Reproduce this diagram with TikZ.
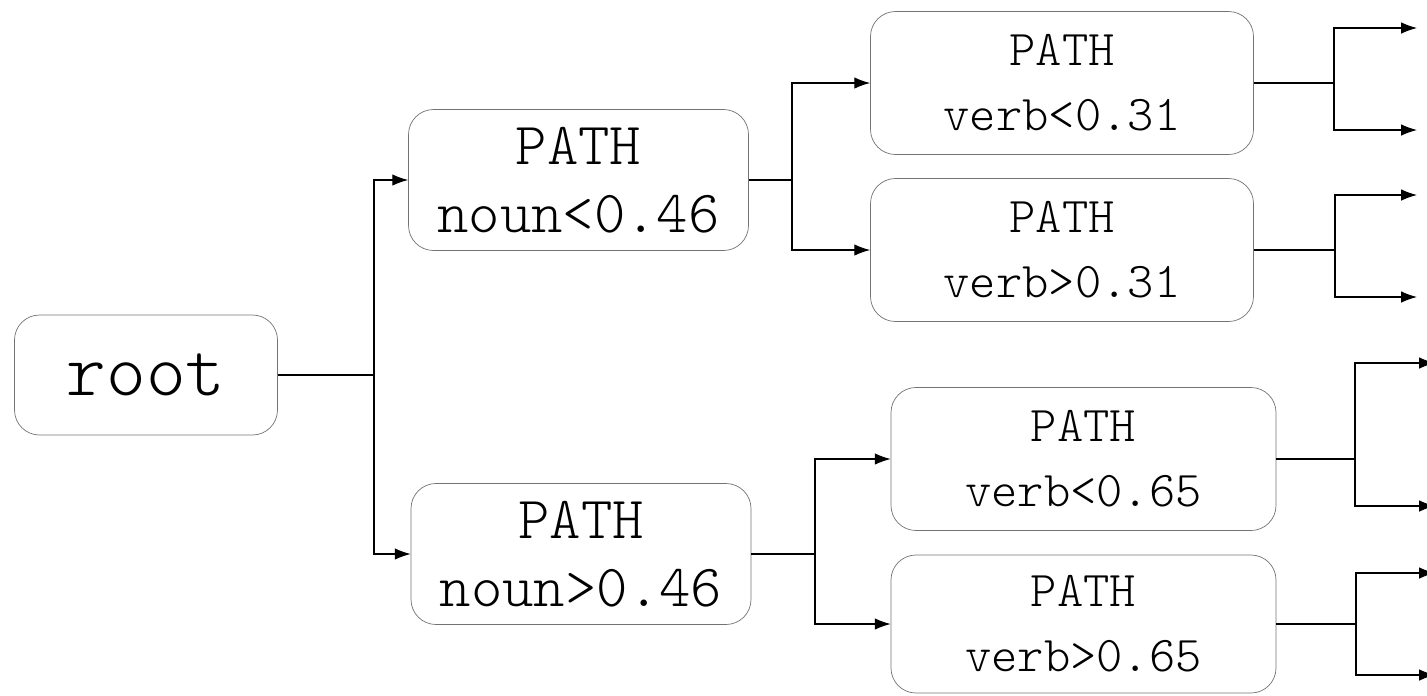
\documentclass[tikz,border=0pt]{standalone}
\usepackage{fontspec}
\usepackage{tikz}
\usetikzlibrary{arrows.meta}
\newfontfamily\pathfont{Latin Modern Mono Light}

\begin{document}
\begin{tikzpicture}[
    box/.style={draw=black!55, rounded corners=0.5cm, inner sep=0pt, align=center},
    rootbox/.style={box, minimum width=5.26cm, minimum height=2.4cm, font=\pathfont\fontsize{43}{46}\selectfont},
    nounbox/.style={box, minimum width=6.8cm, minimum height=2.82cm, font=\pathfont\fontsize{34}{39}\selectfont},
    verbbox/.style={box, minimum width=7.66cm, minimum height=2.86cm, font=\pathfont\fontsize{28.5}{37}\selectfont},
    edge/.style={line width=0.6pt, -{Latex[length=9pt,width=6.5pt]}}
]
        \useasboundingbox (0,0) rectangle (28.54,-13.90);

        \node[rootbox] (root) at (2.92,-7.50) {root};
        \node[nounbox] (n1) at (11.57,-3.60) {PATH\\noun<0.46};
        \node[nounbox] (n2) at (11.62,-11.08) {PATH\\noun>0.46};
        \node[verbbox] (v1) at (21.24,-1.66) {PATH\\verb<0.31};
        \node[verbbox] (v2) at (21.24,-5.00) {PATH\\verb>0.31};
        \node[verbbox, minimum width=7.7cm] (v3) at (21.67,-9.18) {PATH\\verb<0.65};
        \node[verbbox, minimum width=7.7cm, minimum height=2.76cm] (v4) at (21.67,-12.48) {PATH\\verb>0.65};

        \coordinate (j0) at (7.48,-7.50);
        \coordinate (j1) at (15.84,-3.60);
        \coordinate (j2) at (16.30,-11.08);
        \coordinate (j3) at (26.68,-1.66);
        \coordinate (j4) at (26.70,-5.00);
        \coordinate (j5) at (27.10,-9.18);
        \coordinate (j6) at (27.12,-12.48);

        \coordinate (e1) at (28.34,-0.56);
        \coordinate (e2) at (28.34,-2.60);
        \coordinate (e3) at (28.34,-3.90);
        \coordinate (e4) at (28.34,-5.94);
        \coordinate (e5) at (28.70,-7.26);
        \coordinate (e6) at (28.70,-10.12);
        \coordinate (e7) at (28.70,-11.46);
        \coordinate (e8) at (28.70,-13.50);

        \draw[line width=0.6pt] (root) -- (j0);
        \draw[edge] (j0) |- (n1);
        \draw[edge] (j0) |- (n2);

        \draw[line width=0.6pt] (n1) -- (j1);
        \draw[edge] (j1) |- (v1);
        \draw[edge] (j1) |- (v2);

        \draw[line width=0.6pt] (n2) -- (j2);
        \draw[edge] (j2) |- (v3);
        \draw[edge] (j2) |- (v4);

        \draw[line width=0.6pt] (v1) -- (j3);
        \draw[edge] (j3) |- (e1);
        \draw[edge] (j3) |- (e2);

        \draw[line width=0.6pt] (v2) -- (j4);
        \draw[edge] (j4) |- (e3);
        \draw[edge] (j4) |- (e4);

        \draw[line width=0.6pt] (v3) -- (j5);
        \draw[edge] (j5) |- (e5);
        \draw[edge] (j5) |- (e6);

        \draw[line width=0.6pt] (v4) -- (j6);
        \draw[edge] (j6) |- (e7);
        \draw[edge] (j6) |- (e8);
    \end{tikzpicture}
\end{document}
